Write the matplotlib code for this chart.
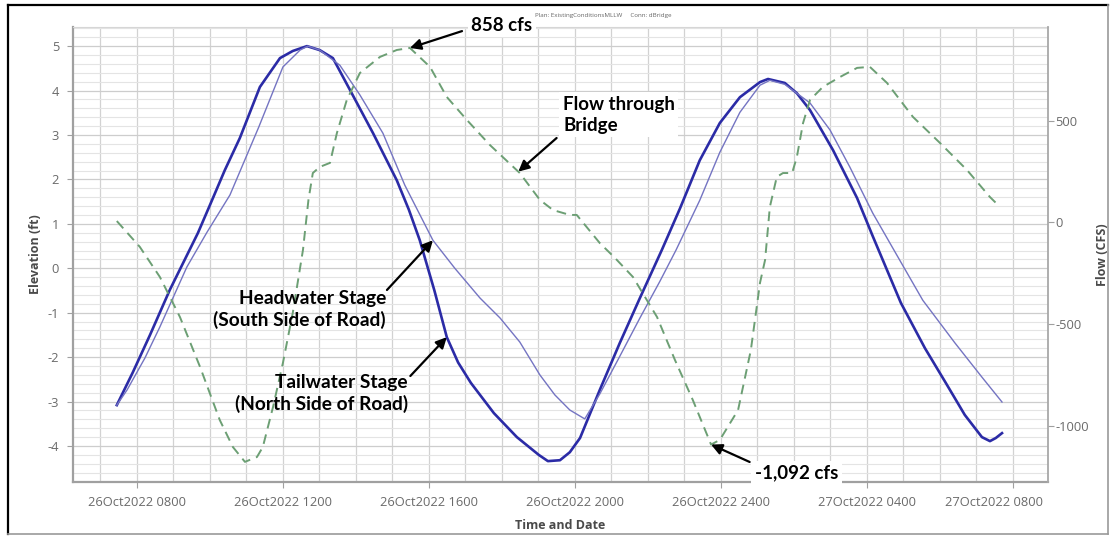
import matplotlib
matplotlib.use('Agg')
import matplotlib.pyplot as plt
from matplotlib.lines import Line2D
from matplotlib.ticker import MultipleLocator
import matplotlib.transforms as mtransforms

# ---------------- data (x = hours since 26Oct2022 00:00) ----------------
tail_hours = [7.45, 7.89, 8.36, 8.90, 9.67, 10.0, 10.41, 10.82, 11.37, 11.92, 12.27, 12.66,
              13.01, 13.37, 13.84, 14.47, 15.12, 15.45, 15.75, 16.15, 16.49, 16.80, 17.15,
              17.78, 18.41, 19.01,
              19.26, 19.59, 19.86, 20.14, 20.41, 20.68, 21.23, 21.78, 22.38, 22.88, 23.42,
              23.97, 24.52, 25.07, 25.29, 25.75, 26.08, 26.44, 27.07, 27.73, 28.16, 28.55,
              28.93, 29.59, 30.16, 30.68, 31.15, 31.37, 31.53, 31.70]
tail_elev = [-3.08, -2.34, -1.50, -0.49, 0.79, 1.42, 2.21, 2.93, 4.08, 4.73, 4.89, 5.00,
             4.91, 4.73, 4.01, 3.04, 1.98, 1.32, 0.63, -0.50, -1.55, -2.12, -2.58,
             -3.26, -3.80, -4.20,
             -4.34, -4.32, -4.14, -3.82, -3.28, -2.74, -1.68, -0.67, 0.41, 1.35, 2.43,
             3.27, 3.85, 4.19, 4.26, 4.17, 3.94, 3.56, 2.66, 1.58, 0.72, -0.04,
             -0.78, -1.80, -2.58, -3.30, -3.80, -3.89, -3.82, -3.71]

head_hours = [7.45, 7.73, 8.22, 8.63, 9.37, 9.92, 10.55, 11.34, 12.0, 12.47, 12.68, 13.01,
              13.56, 14.11, 14.74, 15.34, 16.11, 16.71, 17.40, 17.95, 18.49, 19.04, 19.45,
              19.86, 20.27, 20.68, 21.23, 21.78, 22.33, 22.77, 23.42, 23.97, 24.52, 25.07,
              25.34, 25.75, 26.44, 26.99, 27.53, 28.16, 28.90, 29.53, 30.41, 31.15, 31.70]
head_elev = [-3.08, -2.74, -2.02, -1.32, 0.03, 0.81, 1.65, 3.18, 4.53, 4.91, 5.00, 4.91,
             4.57, 3.90, 3.04, 1.87, 0.63, 0.0, -0.67, -1.12, -1.66, -2.40, -2.85,
             -3.19, -3.39, -2.83, -1.98, -1.12, -0.29, 0.41, 1.53, 2.61, 3.51, 4.12,
             4.23, 4.14, 3.72, 3.11, 2.28, 1.24, 0.18, -0.72, -1.68, -2.45, -3.01]

flow_hours = [7.45, 8.08, 8.63, 9.18, 9.73, 10.27, 10.63, 10.96, 11.29, 11.45, 11.73, 12.0,
              12.27, 12.55, 12.70, 12.82, 13.01, 13.29, 13.48, 13.75, 14.11, 14.66, 15.12,
              15.48, 16.03, 16.49, 17.04, 17.67, 18.49, 19.04, 19.40, 19.86, 20.05, 20.68,
              21.10, 21.59, 22.25, 22.74, 23.23, 23.73, 23.97, 24.47, 24.82, 25.07, 25.21,
              25.34, 25.53, 25.70, 25.95, 26.08, 26.25, 26.44, 26.79, 27.26, 27.73, 28.08,
              28.55, 29.26, 30.0, 30.74, 31.37, 31.59]
flow_cfs = [7, -120, -268, -465, -710, -971, -1104, -1177, -1153, -1104, -907, -691,
            -445, -135, 111, 243, 273, 293, 440, 602, 735, 814, 848,
            858, 765, 617, 504, 381, 243, 111, 61, 37, 37, -101,
            -175, -268, -465, -676, -873, -1092, -1069, -922, -627, -297, -184,
            76, 224, 243, 243, 322, 489, 602, 666, 715, 760, 765,
            686, 519, 391, 258, 125, 86]

time_ticks = [8, 12, 16, 20, 24, 28, 32]
time_labels = ["26Oct2022 0800", "26Oct2022 1200", "26Oct2022 1600", "26Oct2022 2000",
               "26Oct2022 2400", "27Oct2022 0400", "27Oct2022 0800"]
elev_ticks = [-4, -3, -2, -1, 0, 1, 2, 3, 4, 5]
flow_ticks = [-1000, -500, 0, 500]

peak_flow_hour, peak_flow = 15.48, 858
min_flow_hour, min_flow = 23.73, -1092
bridge_pt = (18.45, 250)
head_pt = (16.11, 0.63)
tail_pt = (16.49, -1.55)

# ---------------- figure ----------------
fig = plt.figure(figsize=(11.13, 5.36), dpi=100)
W, H = 1113, 536
ax = fig.add_axes([73 / W, 54 / H, 975 / W, 455 / H])
ax2 = ax.twinx()

ax.set_xlim(6.25, 32.96)
ax.set_ylim(-4.81, 5.43)
ax2.set_ylim(-1276, 961)

tick_font = 'Open Sans'
ax.set_xticks(time_ticks, time_labels)
ax.xaxis.set_minor_locator(MultipleLocator(1))
ax.set_yticks(elev_ticks, [str(v) for v in elev_ticks])
ax.yaxis.set_minor_locator(MultipleLocator(0.2))
ax2.set_yticks(flow_ticks, [str(v) for v in flow_ticks])

for a in (ax, ax2):
    for lab in a.get_xticklabels() + a.get_yticklabels():
        lab.set_fontfamily(tick_font)

ax.tick_params(axis='x', which='major', length=4, color='#a0a0a0', labelcolor='#6a6a6a',
               labelsize=9.3, pad=6)
ax.tick_params(axis='y', which='major', length=4, color='#a0a0a0', labelcolor='#6a6a6a',
               labelsize=9.3, pad=6)
ax.tick_params(which='minor', length=0)
ax2.tick_params(axis='y', length=4, color='#a0a0a0', labelcolor='#6a6a6a',
                labelsize=9.3, pad=1.5)

ax.grid(axis='x', which='both', color='#d2d2d2', lw=0.9)
ax.grid(axis='y', which='major', color='#cdcdcd', lw=0.9)
ax.grid(axis='y', which='minor', color='#e4e4e4', lw=0.8)
ax.set_axisbelow(True)

for s in ('left', 'bottom'):
    ax.spines[s].set_color('#a0a0a0')
    ax.spines[s].set_linewidth(1.6)
ax.spines['top'].set_color('#d6d6d6')
ax.spines['top'].set_linewidth(0.8)
ax.spines['right'].set_visible(False)
for s in ('left', 'bottom', 'top'):
    ax2.spines[s].set_visible(False)
ax2.spines['right'].set_color('#a8a8a8')
ax2.spines['right'].set_linewidth(1.3)

lab_kw = dict(fontsize=9, fontweight='bold', color='#4a4a4a', fontfamily='Open Sans')
ax.set_xlabel('Time and Date', labelpad=7, **lab_kw)
ax.set_ylabel('Elevation (ft)', labelpad=4, **lab_kw)
ax2.set_ylabel('Flow (CFS)', labelpad=5, **lab_kw)

# shift last time label so it stays inside the plot frame
last = ax.get_xticklabels()[-1]
last.set_horizontalalignment('right')
last.set_transform(last.get_transform() +
                   mtransforms.ScaledTranslation(0.30, 0, fig.dpi_scale_trans))

# ---------------- series ----------------
ax.plot(tail_hours, tail_elev, color='#2b2ba6', lw=1.9, zorder=3)
ax.plot(head_hours, head_elev, color='#7474c2', lw=1.0, zorder=3)
ax2.plot(flow_hours, flow_cfs, color='#6c9f74', lw=1.4, ls=(0, (5, 3.2)), zorder=2)

# ---------------- annotations ----------------
ann_font = dict(fontfamily='Lato', fontweight='bold', color='black')
arrow = dict(arrowstyle='-|>', color='black', lw=1.6, mutation_scale=16,
             shrinkA=0, shrinkB=0)

ax2.annotate('', xy=(peak_flow_hour, peak_flow), xycoords='data',
             xytext=(0.399, 0.991), textcoords='axes fraction', arrowprops=arrow,
             annotation_clip=False, zorder=9)
ax2.annotate('', xy=bridge_pt, xycoords='data',
             xytext=(0.496, 0.756), textcoords='axes fraction', arrowprops=arrow, zorder=9)
ax2.annotate('', xy=head_pt, xycoords=ax.transData,
             xytext=(0.322, 0.422), textcoords='axes fraction', arrowprops=arrow, zorder=9)
ax2.annotate('', xy=tail_pt, xycoords=ax.transData,
             xytext=(0.346, 0.233), textcoords='axes fraction', arrowprops=arrow, zorder=9)
ax2.annotate('', xy=(min_flow_hour, min_flow), xycoords='data',
             xytext=(0.694, 0.044), textcoords='axes fraction', arrowprops=arrow, zorder=9)

box = dict(facecolor='white', edgecolor='none', pad=2.5)
ax2.text(0.44, 1.004, f'{peak_flow:,} cfs', transform=ax2.transAxes, ha='center',
         va='center', fontsize=13.5, bbox=box, clip_on=False, zorder=10, **ann_font)
ax2.text(0.5026, 0.807, 'Flow through\nBridge', transform=ax2.transAxes, ha='left',
         va='center', fontsize=13.5, linespacing=1.3, bbox=box, zorder=10, **ann_font)
ax2.text(0.321, 0.379, 'Headwater Stage\n(South Side of Road)', transform=ax2.transAxes,
         ha='right', va='center', multialignment='right', fontsize=13.8, linespacing=1.25,
         zorder=10, **ann_font)
ax2.text(0.3436, 0.1945, 'Tailwater Stage\n(North Side of Road)', transform=ax2.transAxes,
         ha='right', va='center', multialignment='right', fontsize=13.8, linespacing=1.2,
         zorder=10, **ann_font)
ax2.text(0.6995, 0.02, f'{min_flow:,} cfs', transform=ax2.transAxes, ha='left',
         va='center', fontsize=13.5, bbox=box, zorder=10, **ann_font)

fig.text(603 / W, 1 - 15 / H, 'Plan: ExistingConditionsMLLW     Conn: dBridge',
         fontsize=4.5, color='#666666', ha='center', va='center', fontfamily='Open Sans')

# ---------------- outer frame ----------------
x0, x1 = 8 / W, 1108 / W
y0, y1 = 1 - 534 / H, 1 - 5 / H
fig.add_artist(Line2D([x0, x1], [y1, y1], transform=fig.transFigure, color='black', lw=1.6))
fig.add_artist(Line2D([x0, x0], [y0, y1], transform=fig.transFigure, color='black', lw=1.6))
fig.add_artist(Line2D([x0, x1], [y0, y0], transform=fig.transFigure, color='#9a9a9a', lw=1.2))
fig.add_artist(Line2D([x1, x1], [y0, y1], transform=fig.transFigure, color='#9a9a9a', lw=1.2))

fig.savefig('out.png', dpi=100, facecolor='white')
